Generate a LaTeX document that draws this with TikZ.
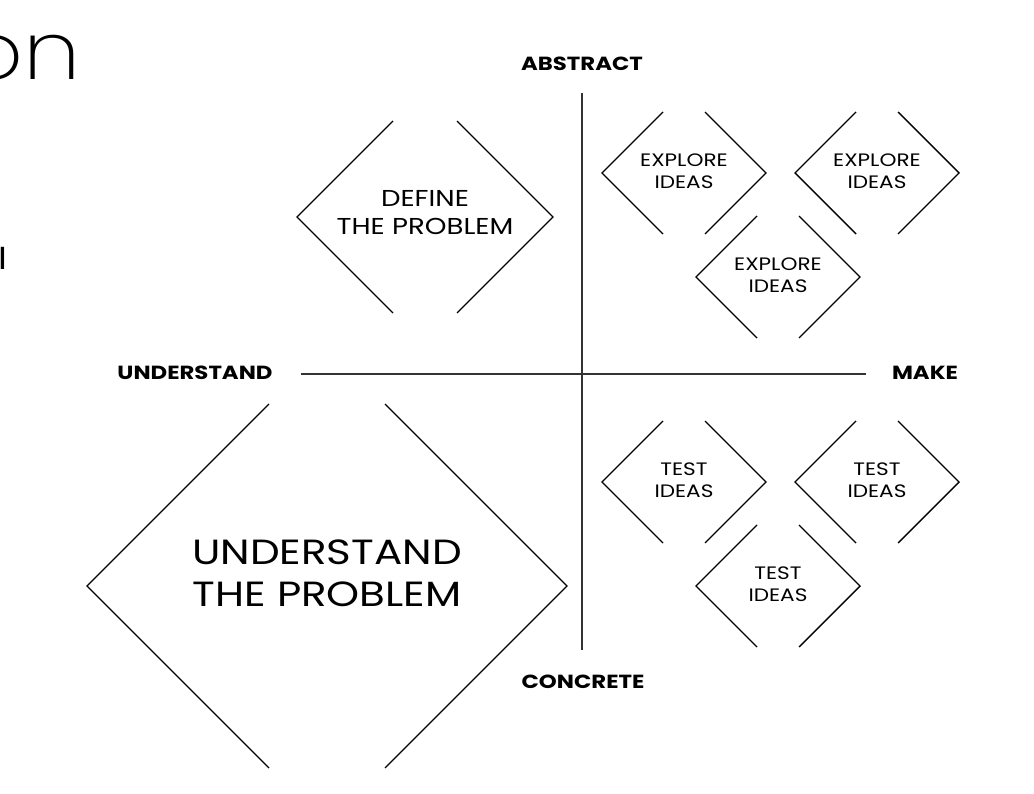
\documentclass[tikz,border=0pt]{standalone}
\usepackage{fontspec}
\setmainfont{Poppins}[FakeStretch=1.2]
\IfFontExistsTF{Poppins ExtraLight}{\newfontfamily\thinfont{Poppins ExtraLight}[FakeStretch=1.15]}{%
  \IfFontExistsTF{Poppins Light}{\newfontfamily\thinfont{Poppins Light}[FakeStretch=1.15]}{\newfontfamily\thinfont{Poppins}[FakeStretch=1.15]}}
\usetikzlibrary{calc}
\tikzset{
  chev/.style={line width=1.4pt, black, line cap=butt, line join=miter},
  axisline/.style={line width=1.1pt, black!80},
  lab/.style={font=\bfseries\fontsize{19}{22}\selectfont, inner sep=0pt},
  dtext/.style={align=center, inner sep=0pt},
}
% name, cx, cy, r, g, text-y, size, skip, text
\newcommand\mydia[9]{%
  \coordinate (#1c) at (#2,#3);
  \node[dtext, font=\fontsize{#7}{#8}\selectfont] (#1) at (#2,#6) {#9};
  \draw[chev, shift={(#1c)}] (-#5,{-(#4-#5)}) -- (-#4,0) -- (-#5,{#4-#5});
  \draw[chev, shift={(#1c)}] (#5,{-(#4-#5)}) -- (#4,0) -- (#5,{#4-#5});
}
\begin{document}
\begin{tikzpicture}[x=1pt,y=-1pt]
\useasboundingbox (0,0) rectangle (1034,794);
\node[font=\thinfont\fontsize{80}{80}\selectfont, anchor=base east, inner sep=0pt] (ttl) at (81,80) {on};
\node[font=\fontsize{30}{30}\selectfont, anchor=base west, inner sep=0pt] (frag) at (-1.5,270) {l};

\node[lab] (abs) at (582,64) {ABSTRACT};
\node[lab] (con) at (583,682) {CONCRETE};
\node[lab] (und) at (195,373) {UNDERSTAND};
\node[lab] (make) at (925,373) {MAKE};
\coordinate (vt) at (582,93);
\coordinate (vb) at (582,650);
\coordinate (hl) at (301,374);
\coordinate (hr) at (866,374);
\draw[axisline] (vt) -- (vb);
\draw[axisline] (hl) -- (hr);

\mydia{def}{425}{217}{128}{32}{213}{23}{28}{DEFINE\\THE PROBLEM}
\mydia{exa}{684}{173}{82}{21}{171}{18}{22}{EXPLORE\\IDEAS}
\mydia{exb}{877}{173}{82}{21}{171}{18}{22}{EXPLORE\\IDEAS}
\mydia{exc}{778}{277}{82}{21}{275}{18}{22}{EXPLORE\\IDEAS}
\mydia{tea}{684}{482}{82}{21}{480}{18}{22}{TEST\\IDEAS}
\mydia{teb}{877}{482}{82}{21}{480}{18}{22}{TEST\\IDEAS}
\mydia{tec}{778}{586}{82}{21}{584}{18}{22}{TEST\\IDEAS}
\mydia{big}{327}{586}{240}{58}{573}{35}{42}{UNDERSTAND\\THE PROBLEM}
\end{tikzpicture}
\end{document}
